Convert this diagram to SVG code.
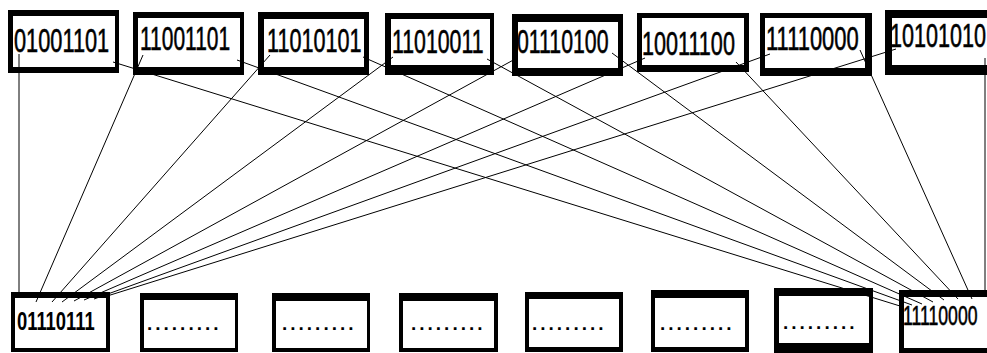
<svg xmlns="http://www.w3.org/2000/svg" width="987" height="353" viewBox="0 0 987 353">
  <style>
    .frame { fill: #000; }
    .face { fill: #fff; }
    .bits { font-family: "Liberation Sans", Arial, sans-serif; font-size: 33px; fill: #000; stroke: #000; stroke-width: 0.6px; }
    .bitsb { font-family: "Liberation Sans", Arial, sans-serif; font-size: 25px; font-weight: bold; fill: #000; }
    .dots { font-family: "Liberation Sans", Arial, sans-serif; font-size: 19px; font-weight: bold; fill: #000; letter-spacing: 3px; }
    .wire { stroke: #000; stroke-width: 1; fill: none; }
  </style>
  <rect width="987" height="353" fill="#fff"/>

  <!-- upper row of bytes (labels narrowed with a horizontal scale) -->
  <g id="top1"><rect class="frame" x="8" y="10" width="111" height="63"/><rect class="face" x="13" y="16" width="102" height="51"/><text class="bits" transform="translate(14,52) scale(0.66,1)">01001101</text></g>
  <g id="top2"><rect class="frame" x="133" y="12" width="111" height="63"/><rect class="face" x="138" y="18" width="102" height="49"/><text class="bits" transform="translate(140,50) scale(0.635,1)">11001101</text></g>
  <g id="top3"><rect class="frame" x="258" y="12" width="111" height="63"/><rect class="face" x="264" y="19" width="100" height="48"/><text class="bits" transform="translate(267,52) scale(0.655,1)">11010101</text></g>
  <g id="top4"><rect class="frame" x="385" y="13" width="109" height="62"/><rect class="face" x="391" y="19" width="99" height="46"/><text class="bits" transform="translate(392,53) scale(0.645,1)">11010011</text></g>
  <g id="top5"><rect class="frame" x="512" y="14" width="111" height="62"/><rect class="face" x="518" y="22" width="100" height="46"/><text class="bits" transform="translate(517,53) scale(0.645,1)">01110100</text></g>
  <g id="top6"><rect class="frame" x="637" y="13" width="112" height="59"/><rect class="face" x="642" y="18" width="102" height="47"/><text class="bits" transform="translate(642,55) scale(0.655,1)">10011100</text></g>
  <g id="top7"><rect class="frame" x="760" y="13" width="112" height="63"/><rect class="face" x="765" y="18" width="100" height="50"/><text class="bits" transform="translate(766,50) scale(0.665,1)">11110000</text></g>
  <g id="top8"><rect class="frame" x="885" y="10" width="110" height="65"/><rect class="face" x="892" y="18" width="103" height="47"/><text class="bits" transform="translate(890,47) scale(0.655,1)">10101010</text></g>

  <!-- lower row of bytes -->
  <g id="bot1"><rect class="frame" x="11" y="292" width="99" height="60"/><rect class="face" x="15" y="298" width="91" height="50"/><text class="bitsb" transform="translate(17,330) scale(0.735,1)">01110111</text></g>
  <g id="bot2"><rect class="frame" x="140" y="293" width="98" height="59"/><rect class="face" x="144" y="300" width="91" height="48"/><text class="dots" x="147" y="330">.........</text></g>
  <g id="bot3"><rect class="frame" x="272" y="293" width="98" height="59"/><rect class="face" x="276" y="301" width="91" height="47"/><text class="dots" x="282" y="330">.........</text></g>
  <g id="bot4"><rect class="frame" x="399" y="293" width="99" height="59"/><rect class="face" x="403" y="301" width="91" height="47"/><text class="dots" x="411" y="330">.........</text></g>
  <g id="bot5"><rect class="frame" x="525" y="292" width="98" height="60"/><rect class="face" x="529" y="299" width="90" height="48"/><text class="dots" x="532" y="330">.........</text></g>
  <g id="bot6"><rect class="frame" x="651" y="290" width="98" height="62"/><rect class="face" x="655" y="298" width="90" height="49"/><text class="dots" x="660" y="330">.........</text></g>
  <g id="bot7"><rect class="frame" x="774" y="288" width="99" height="65"/><rect class="face" x="779" y="296" width="90" height="47"/><text class="dots" x="783" y="329">.........</text></g>
  <g id="bot8"><rect class="frame" x="899" y="290" width="96" height="63"/><rect class="face" x="904" y="297" width="91" height="51"/><text class="bits" transform="translate(903,325) scale(0.63,1)" style="font-size:28px">11110000</text></g>

  <!-- connectors: every upper byte feeds the first and the last lower byte -->
  <g id="connectors">
    <line class="wire" x1="19" y1="54" x2="19" y2="292"/>
    <line class="wire" x1="143" y1="55" x2="36" y2="302"/>
    <line class="wire" x1="270" y1="55" x2="52" y2="302"/>
    <line class="wire" x1="393" y1="57" x2="62" y2="302"/>
    <line class="wire" x1="517" y1="58" x2="74" y2="301"/>
    <line class="wire" x1="645" y1="58" x2="84" y2="300"/>
    <line class="wire" x1="770" y1="54" x2="94" y2="299"/>
    <line class="wire" x1="896" y1="49" x2="104" y2="297"/>

    <line class="wire" x1="113" y1="62" x2="900" y2="306"/>
    <line class="wire" x1="237" y1="60" x2="912" y2="305"/>
    <line class="wire" x1="363" y1="57" x2="922" y2="304"/>
    <line class="wire" x1="487" y1="59" x2="933" y2="302"/>
    <line class="wire" x1="612" y1="53" x2="944" y2="300"/>
    <line class="wire" x1="736" y1="62" x2="958" y2="299"/>
    <line class="wire" x1="860" y1="50" x2="972" y2="299"/>
    <line class="wire" x1="985" y1="58" x2="985" y2="290"/>
  </g>
</svg>
